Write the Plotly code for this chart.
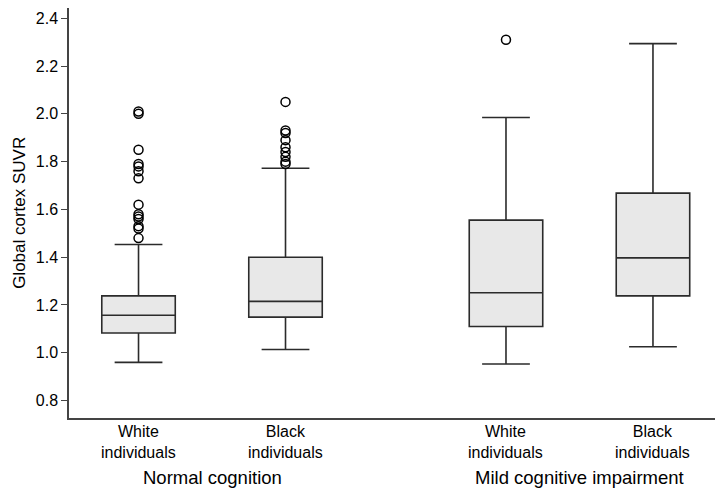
import plotly.graph_objects as go

# box positions on a numeric axis (groups separated by a gap)
positions = [1, 2, 3.5, 4.5]
labels = ["White<br>individuals", "Black<br>individuals",
          "White<br>individuals", "Black<br>individuals"]
groups = ["Normal cognition", "Mild cognitive impairment"]
group_pos = [1.5, 4.0]

q1 = [1.083, 1.149, 1.110, 1.238]
median = [1.157, 1.215, 1.251, 1.397]
q3 = [1.238, 1.400, 1.555, 1.668]
lower = [0.960, 1.014, 0.953, 1.025]
upper = [1.453, 1.772, 1.985, 2.294]

out_nc_white = [1.48, 1.52, 1.53, 1.56, 1.57, 1.58, 1.62, 1.73, 1.76,
                1.78, 1.79, 1.85, 2.00, 2.01]
out_nc_black = [1.79, 1.80, 1.82, 1.84, 1.86, 1.89, 1.92, 1.93, 2.05]
out_mci_white = [2.31]
outliers = [out_nc_white, out_nc_black, out_mci_white, []]

font = "Liberation Sans, Arial, sans-serif"

fig = go.Figure()
fig.add_trace(go.Box(
    x=positions, q1=q1, median=median, q3=q3,
    lowerfence=lower, upperfence=upper,
    width=0.5, whiskerwidth=0.65,
    fillcolor="#e8e8e8", line=dict(color="#2b2b2b", width=1.6),
    boxpoints=False, hoverinfo="skip"))

for pos, pts in zip(positions, outliers):
    if pts:
        fig.add_trace(go.Scatter(
            x=[pos] * len(pts), y=pts, mode="markers",
            marker=dict(symbol="circle-open", size=9, color="black",
                        line=dict(width=1.5)),
            hoverinfo="skip"))

# category labels under each box
for lab, pos in zip(labels, positions):
    fig.add_annotation(x=pos, y=-0.0585, xref="x", yref="paper", text=lab,
                       showarrow=False, font=dict(size=16, color="black"),
                       yanchor="middle")

# group labels
for g, gp in zip(groups, group_pos):
    fig.add_annotation(x=gp, y=-0.146, xref="x", yref="paper", text=g,
                       showarrow=False, font=dict(size=18.5, color="black"),
                       yanchor="middle")

# y axis title
fig.add_annotation(x=-0.077, y=0.5, xref="paper", yref="paper",
                   xanchor="center", yanchor="middle",
                   text="Global cortex SUVR", textangle=-90, showarrow=False,
                   font=dict(size=17, color="black"))

# the page puts the figure 8px in from the top-left corner
fig.update_layout(
    width=715, height=481,
    margin=dict(l=61, r=3, t=0, b=71),
    plot_bgcolor="white", paper_bgcolor="white",
    showlegend=False,
    font=dict(family=font, color="black", size=16),
    xaxis=dict(range=[0.527, 4.956], showticklabels=False,
               showline=True, linecolor="#444444", linewidth=1.5,
               ticks="", showgrid=False, zeroline=False),
    yaxis=dict(range=[0.727, 2.443], tickvals=[0.8, 1.0, 1.2, 1.4, 1.6, 1.8, 2.0, 2.2, 2.4],
               tickformat=".1f", showline=True, linecolor="#444444", linewidth=1.5,
               ticks="outside", ticklen=6, tickcolor="#444444",
               showgrid=False, zeroline=False,
               tickfont=dict(size=16)),
)

fig.write_html("out.html")
